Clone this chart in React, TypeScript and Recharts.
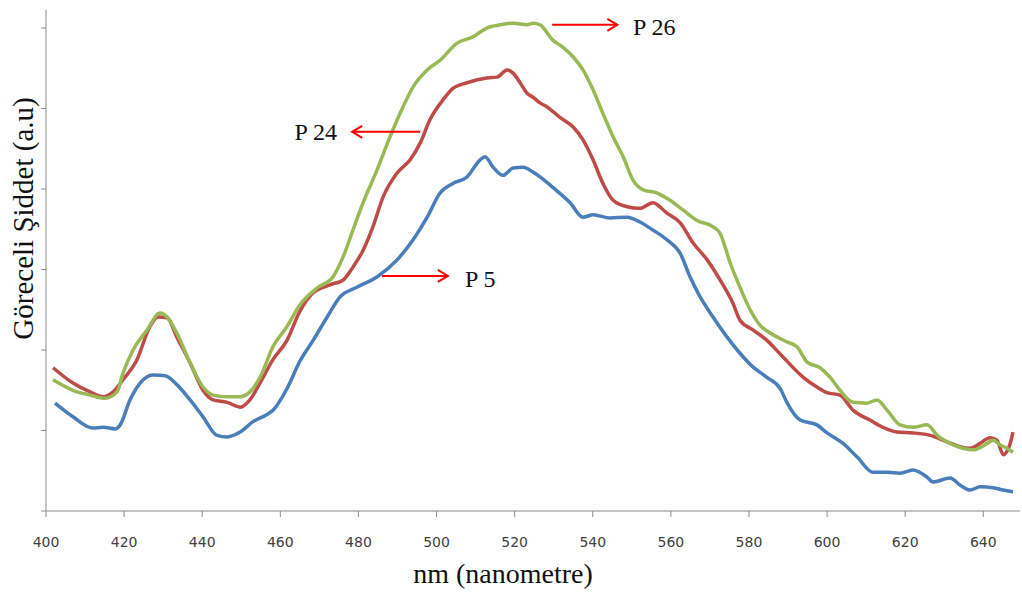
import { LineChart, Line, XAxis, YAxis, ReferenceLine } from "recharts";

// wavelength (nm) / relative intensity readings for each sample
const p5Nm = [402.3, 406.9, 412.0, 414.6, 417.7, 419.0, 421.5, 424.1, 427.4, 430.5, 433.5, 436.9, 440.2, 443.8, 446.4, 449.7, 453.0, 456.6, 458.1, 461.7, 465.0, 468.4, 472.0, 475.3, 479.6, 484.8, 489.9, 494.0, 497.6, 500.9, 504.2, 507.8, 511.1, 512.4, 514.5, 517.0, 519.6, 522.2, 524.7, 526.5, 529.8, 534.2, 537.5, 540.1, 544.4, 548.8, 552.1, 555.4, 559.0, 562.4, 564.9, 567.5, 570.8, 574.4, 577.7, 581.0, 584.6, 588.0, 589.8, 593.1, 597.4, 600.0, 604.1, 607.7, 611.8, 615.4, 618.7, 622.0, 625.6, 627.1, 631.5, 634.1, 636.6, 639.2, 642.5, 645.1, 647.6];
const p5Val = [1.34, 1.17, 1.03, 1.04, 1.02, 1.07, 1.38, 1.59, 1.69, 1.68, 1.57, 1.38, 1.17, 0.94, 0.92, 0.98, 1.11, 1.2, 1.25, 1.52, 1.86, 2.12, 2.41, 2.66, 2.78, 2.91, 3.12, 3.37, 3.65, 3.95, 4.07, 4.15, 4.36, 4.4, 4.27, 4.17, 4.26, 4.27, 4.21, 4.15, 4.02, 3.83, 3.65, 3.68, 3.64, 3.65, 3.59, 3.49, 3.37, 3.2, 2.91, 2.66, 2.41, 2.16, 1.96, 1.79, 1.66, 1.52, 1.34, 1.13, 1.07, 0.97, 0.84, 0.67, 0.48, 0.48, 0.47, 0.51, 0.42, 0.36, 0.41, 0.32, 0.26, 0.3, 0.29, 0.26, 0.24];

const p24Nm = [401.8, 406.9, 411.3, 414.6, 417.2, 419.7, 423.3, 426.6, 428.7, 431.0, 433.5, 436.9, 440.2, 442.8, 446.4, 449.7, 452.2, 454.8, 458.1, 461.7, 465.0, 468.4, 472.7, 476.1, 478.6, 481.2, 483.7, 486.3, 489.9, 493.2, 495.8, 498.3, 501.7, 504.2, 507.8, 512.9, 515.5, 518.1, 519.6, 521.4, 523.2, 524.7, 526.5, 528.3, 531.6, 535.0, 537.5, 540.1, 542.6, 545.2, 548.8, 552.1, 555.4, 559.0, 562.4, 565.7, 569.3, 572.6, 575.9, 577.7, 581.0, 584.6, 588.0, 593.9, 597.4, 600.0, 603.3, 606.7, 611.0, 614.3, 617.9, 622.0, 626.4, 630.7, 634.1, 636.6, 639.2, 641.7, 643.5, 645.1, 646.9, 647.6];
const p24Val = [1.78, 1.59, 1.48, 1.42, 1.48, 1.63, 1.88, 2.29, 2.41, 2.4, 2.16, 1.84, 1.5, 1.38, 1.35, 1.29, 1.38, 1.59, 1.88, 2.12, 2.48, 2.71, 2.81, 2.87, 3.03, 3.24, 3.53, 3.9, 4.2, 4.36, 4.57, 4.86, 5.11, 5.25, 5.32, 5.38, 5.39, 5.48, 5.44, 5.32, 5.19, 5.14, 5.07, 5.02, 4.89, 4.77, 4.61, 4.36, 4.07, 3.86, 3.78, 3.76, 3.83, 3.7, 3.58, 3.33, 3.12, 2.87, 2.58, 2.37, 2.25, 2.12, 1.95, 1.66, 1.54, 1.47, 1.44, 1.25, 1.13, 1.04, 0.98, 0.97, 0.94, 0.86, 0.8, 0.78, 0.84, 0.91, 0.88, 0.7, 0.84, 0.98];

const p26Nm = [401.8, 406.9, 411.3, 415.1, 418.2, 419.7, 422.3, 425.9, 429.2, 431.0, 433.5, 436.9, 440.2, 442.8, 446.4, 449.7, 452.2, 454.8, 458.1, 461.7, 465.0, 469.4, 473.5, 476.1, 478.6, 481.2, 484.8, 488.1, 491.4, 494.0, 497.6, 500.9, 505.2, 509.3, 512.9, 516.3, 519.6, 523.2, 524.7, 526.5, 529.8, 532.4, 535.0, 537.5, 540.1, 542.6, 545.2, 547.8, 550.3, 552.9, 556.5, 559.8, 563.1, 566.7, 570.8, 572.6, 575.2, 577.7, 580.3, 582.8, 586.2, 589.8, 592.3, 594.9, 598.2, 600.8, 603.3, 606.7, 610.2, 612.8, 615.4, 618.7, 622.0, 625.6, 628.2, 631.5, 634.8, 637.4, 641.0, 642.5, 644.3, 646.1, 647.6];
const p26Val = [1.63, 1.5, 1.44, 1.4, 1.48, 1.71, 2.0, 2.25, 2.46, 2.41, 2.21, 1.84, 1.54, 1.44, 1.42, 1.42, 1.48, 1.66, 2.04, 2.29, 2.56, 2.77, 2.91, 3.16, 3.49, 3.83, 4.24, 4.65, 5.02, 5.27, 5.48, 5.6, 5.81, 5.89, 6.0, 6.04, 6.06, 6.04, 6.06, 6.04, 5.85, 5.76, 5.64, 5.48, 5.23, 4.94, 4.65, 4.4, 4.11, 3.99, 3.95, 3.86, 3.74, 3.61, 3.53, 3.45, 3.08, 2.78, 2.5, 2.31, 2.19, 2.1, 2.04, 1.85, 1.78, 1.66, 1.5, 1.35, 1.34, 1.38, 1.25, 1.07, 1.04, 1.07, 0.94, 0.84, 0.78, 0.76, 0.84, 0.88, 0.82, 0.78, 0.73];

const xTicks = [400, 420, 440, 460, 480, 500, 520, 540, 560, 580, 600, 620, 640];
const yTicks = [0, 1, 2, 3, 4, 5, 6];

// arrow callouts: label, arrow start/end (nm), arrow level, text position
const callouts = [
  { label: "P 26", from: 529.6, to: 546.3, y: 6.04, textNm: 550.3, textY: 5.91, anchor: "start" },
  { label: "P 24", from: 495.8, to: 478.4, y: 4.71, textNm: 474.5, textY: 4.61, anchor: "end" },
  { label: "P 5", from: 486.0, to: 502.9, y: 2.92, textNm: 507.3, textY: 2.78, anchor: "start" },
];

const toRows = (nm: number[], val: number[]) => nm.map((n, i) => ({ nm: n, v: val[i] }));

const series = [
  { name: "P 5", data: toRows(p5Nm, p5Val), color: "#4A7EBB" },
  { name: "P 24", data: toRows(p24Nm, p24Val), color: "#BE4B48" },
  { name: "P 26", data: toRows(p26Nm, p26Val), color: "#98B954" },
];

const serif = "'Liberation Serif', 'Times New Roman', serif";

function Arrow(props: any) {
  const { x1, y1, x2, y2, c } = props;
  const dir = x2 > x1 ? 1 : -1;
  // text position derived from the same scale: px per nm from arrow length
  const pxPerNm = (x2 - x1) / (c.to - c.from);
  const pxPerVal = 501 / 6.224;
  const tx = x1 + (c.textNm - c.from) * pxPerNm;
  const ty = y1 - (c.textY - c.y) * pxPerVal;
  return (
    <g>
      <line x1={x1} y1={y1} x2={x2} y2={y2} stroke="#FF0000" strokeWidth={2} />
      <polyline
        points={`${x2 - dir * 10},${y2 - 6} ${x2},${y2} ${x2 - dir * 10},${y2 + 6}`}
        fill="none"
        stroke="#FF0000"
        strokeWidth={2}
      />
      <text x={tx} y={ty} textAnchor={c.anchor} fontFamily={serif} fontSize={24} fill="#111">
        {c.label}
      </text>
    </g>
  );
}

function XTitle(props: any) {
  const { viewBox } = props;
  return (
    <text x={viewBox.x + viewBox.width / 2 - 30} y={viewBox.y + 72} textAnchor="middle" fontFamily={serif} fontSize={28} fill="#111">
      nm (nanometre)
    </text>
  );
}

function YTitle(props: any) {
  const { viewBox } = props;
  const cx = 23;
  const cy = viewBox.y + viewBox.height / 2 - 42;
  return (
    <text x={cx} y={cy} transform={`rotate(-90, ${cx}, ${cy})`} textAnchor="middle" dominantBaseline="central" fontFamily={serif} fontSize={29} fill="#111">
      Göreceli Şiddet (a.u)
    </text>
  );
}

export default function App() {
  return (
    <div style={{ position: "absolute", left: 0, top: 0, background: "#fff" }}>
      <LineChart width={1022} height={592} margin={{ top: 10, right: 2, bottom: 0, left: 0 }}>
        <XAxis
          type="number"
          dataKey="nm"
          domain={[400, 649.4]}
          ticks={xTicks}
          allowDataOverflow
          height={81}
          stroke="#8c8c8c"
          tickSize={6}
          tickMargin={20}
          tick={{ fontSize: 14, fill: "#404040", fontFamily: "'DejaVu Sans', sans-serif" }}
          label={<XTitle />}
        />
        <YAxis
          type="number"
          domain={[0, 6.224]}
          ticks={yTicks}
          allowDataOverflow
          width={46}
          stroke="#8c8c8c"
          tickSize={5}
          tickFormatter={() => ""}
          label={<YTitle />}
        />
        {series.map((s) => (
          <Line
            key={s.name}
            data={s.data}
            dataKey="v"
            name={s.name}
            type="monotone"
            stroke={s.color}
            strokeWidth={3.5}
            dot={false}
            isAnimationActive={false}
          />
        ))}
        {callouts.map((c) => (
          <ReferenceLine
            key={c.label}
            segment={[
              { x: c.from, y: c.y },
              { x: c.to, y: c.y },
            ]}
            shape={(p: any) => <Arrow {...p} c={c} />}
            ifOverflow="visible"
          />
        ))}
      </LineChart>
    </div>
  );
}
